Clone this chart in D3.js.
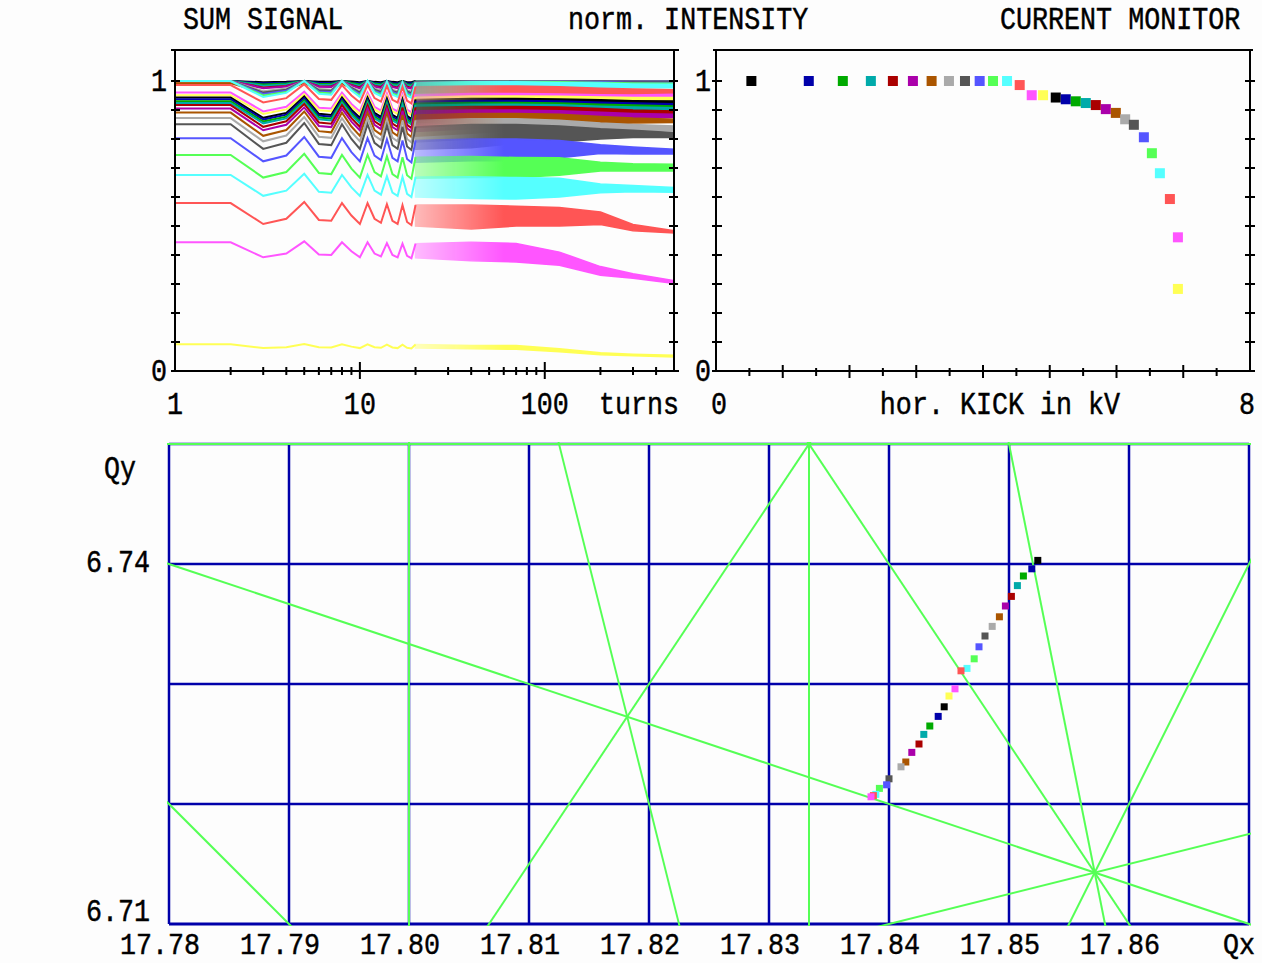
<!DOCTYPE html>
<html>
<head>
<meta charset="utf-8">
<script src="https://cdn.jsdelivr.net/npm/d3@7"></script>
<style>
  body { margin: 0; background: #fdfdfd; }
  text { font-family: "Liberation Mono", monospace; font-size: 26.7px; fill: #000; stroke: #000; stroke-width: 0.4px; }
</style>
</head>
<body>
<svg id="chart" width="1262" height="963"></svg>
<script>
// EGA colours, one per kick step (cycles after 15)
const palette = ["#000000", "#0000aa", "#00aa00", "#00aaaa", "#aa0000", "#aa00aa", "#aa5500", "#aaaaaa",
  "#555555", "#5555ff", "#55ff55", "#55ffff", "#ff5555", "#ff55ff", "#ffff55"];

// SUM SIGNAL: first 20 turns, one row per kick (normalised intensity)
const earlyTurns = [1, 2, 3, 4, 5, 6, 7, 8, 9, 10, 11, 12, 13, 14, 15, 16, 17, 18, 19, 20];
const sumEarly = [
  [1, 1, .996, .997, 1, .997, .997, 1, .998, .996, 1, .997, .996, 1, .997, .996, 1, .996, .996, 1],
  [1, 1, .992, .994, 1, .994, .993, 1, .995, .992, 1, .994, .992, 1, .993, .992, .999, .993, .992, .999],
  [1, 1, .988, .991, 1, .990, .990, 1, .993, .988, 1, .991, .989, .999, .990, .988, .999, .989, .987, .999],
  [1, 1, .984, .988, 1, .987, .986, 1, .990, .984, 1, .988, .985, .999, .986, .984, .998, .986, .983, .998],
  [.998, .998, .978, .983, .999, .982, .981, .998, .986, .978, .998, .983, .979, .997, .981, .978, .996, .980, .977, .996],
  [1, 1, .975, .981, 1, .980, .979, 1, .985, .975, 1, .981, .976, .999, .979, .975, .997, .977, .974, .997],
  [.992, .992, .962, .969, .994, .968, .966, .992, .974, .962, .992, .969, .963, .990, .966, .962, .989, .965, .960, .989],
  [1, 1, .965, .974, 1, .972, .970, 1, .979, .965, 1, .974, .967, .998, .970, .965, .996, .968, .963, .996],
  [1, 1, .960, .970, 1, .968, .966, 1, .976, .960, 1, .970, .962, .998, .966, .960, .996, .964, .958, .996],
  [1, 1, .955, .966, 1, .964, .962, 1, .973, .955, 1, .966, .957, .998, .962, .955, .995, .959, .953, .995],
  [1, 1, .950, .962, 1, .960, .957, 1, .970, .950, 1, .962, .952, .997, .957, .950, .995, .955, .947, .995],
  [1, 1, .945, .959, 1, .956, .953, 1, .967, .945, 1, .959, .948, .997, .953, .945, .994, .950, .942, .994],
  [.986, .986, .926, .941, .989, .938, .935, .986, .950, .926, .986, .941, .929, .983, .935, .926, .980, .932, .923, .980],
  [.960, .960, .895, .911, .963, .908, .905, .960, .921, .895, .960, .911, .898, .957, .905, .895, .953, .901, .892, .953],
  [.951, .951, .886, .902, .954, .899, .896, .951, .912, .886, .951, .902, .889, .948, .896, .886, .944, .892, .883, .944],
  [.943, .943, .873, .890, .947, .887, .883, .943, .901, .873, .943, .890, .876, .939, .883, .873, .936, .880, .869, .936],
  [.937, .937, .867, .884, .941, .881, .877, .937, .895, .867, .937, .884, .870, .933, .877, .867, .930, .874, .863, .930],
  [.930, .930, .860, .877, .934, .874, .870, .930, .888, .860, .930, .877, .863, .926, .870, .860, .923, .867, .856, .923],
  [.924, .924, .854, .871, .928, .868, .864, .924, .882, .854, .924, .871, .857, .920, .864, .854, .917, .861, .850, .917],
  [.917, .917, .842, .861, .921, .857, .853, .917, .872, .842, .917, .861, .846, .913, .853, .842, .909, .849, .838, .909],
  [.905, .905, .830, .849, .909, .845, .841, .905, .860, .830, .905, .849, .834, .901, .841, .830, .897, .837, .826, .897],
  [.891, .891, .811, .831, .895, .827, .823, .891, .843, .811, .891, .831, .815, .887, .823, .811, .883, .819, .807, .883],
  [.872, .872, .792, .812, .876, .808, .804, .872, .824, .792, .872, .812, .796, .868, .804, .792, .864, .800, .788, .864],
  [.851, .851, .766, .787, .855, .783, .779, .851, .800, .766, .851, .787, .770, .847, .779, .766, .842, .774, .762, .842],
  [.803, .803, .723, .743, .807, .739, .735, .803, .755, .723, .803, .743, .727, .799, .735, .723, .795, .731, .719, .795],
  [.745, .745, .667, .686, .749, .683, .679, .745, .698, .667, .745, .686, .671, .741, .679, .667, .737, .675, .663, .737],
  [.676, .676, .604, .622, .680, .618, .615, .676, .633, .604, .676, .622, .608, .672, .615, .604, .669, .611, .600, .669],
  [.579, .579, .507, .525, .583, .521, .518, .579, .536, .507, .579, .525, .511, .575, .518, .507, .572, .514, .503, .572],
  [.444, .444, .392, .405, .447, .402, .400, .444, .413, .392, .444, .405, .395, .441, .400, .392, .439, .397, .389, .439],
  [.092, .092, .079, .082, .093, .082, .081, .092, .084, .079, .092, .082, .080, .091, .081, .079, .091, .080, .078, .091]
];

// SUM SIGNAL after turn 20: the oscillation is too dense to read, so low / high edge of each band
const bandTurns = [20, 40, 70, 120, 200, 300, 500];
const bandLo = [
  [.996, .997, .997, .998, .998, .998, .998],
  [.992, .993, .995, .996, .997, .997, .997],
  [.987, .990, .992, .994, .995, .996, .996],
  [.983, .986, .989, .991, .993, .994, .995],
  [.977, .980, .984, .987, .990, .991, .992],
  [.974, .978, .983, .987, .990, .992, .993],
  [.960, .965, .972, .978, .982, .984, .985],
  [.963, .970, .977, .983, .988, .990, .992],
  [.958, .965, .973, .980, .985, .988, .990],
  [.953, .960, .970, .976, .982, .986, .988],
  [.947, .955, .965, .972, .980, .983, .985],
  [.942, .950, .960, .968, .975, .977, .977],
  [.923, .930, .940, .948, .952, .954, .955],
  [.892, .900, .910, .920, .930, .937, .945],
  [.883, .890, .900, .910, .920, .928, .934],
  [.869, .878, .888, .898, .908, .915, .920],
  [.863, .872, .882, .892, .902, .908, .914],
  [.856, .865, .875, .885, .895, .900, .906],
  [.850, .860, .870, .880, .890, .895, .899],
  [.840, .850, .860, .870, .878, .882, .885],
  [.826, .835, .845, .855, .865, .870, .874],
  [.810, .820, .830, .840, .850, .855, .857],
  [.790, .800, .810, .815, .825, .828, .828],
  [.765, .770, .785, .790, .800, .805, .805],
  [.720, .725, .725, .735, .750, .748, .748],
  [.665, .667, .667, .675, .690, .690, .690],
  [.600, .595, .593, .600, .615, .618, .616],
  [.500, .490, .500, .500, .505, .484, .476],
  [.390, .380, .376, .365, .330, .320, .302],
  [.079, .077, .075, .066, .056, .053, .048]
];
const bandHi = [
  [1, 1, 1, 1, 1, 1, 1],
  [.999, 1, 1, 1, 1, 1, 1],
  [.999, 1, 1, 1, 1, 1, 1],
  [.998, .999, 1, 1, 1, 1, 1],
  [.996, .997, .997, .997, .997, .997, .997],
  [.997, .999, .999, .999, .999, .999, .999],
  [.989, .990, .992, .992, .992, .991, .990],
  [.996, .999, .999, .999, .998, .998, .998],
  [.996, .998, .999, .998, .998, .997, .997],
  [.995, .998, .998, .998, .997, .995, .995],
  [.995, .997, .998, .997, .995, .993, .992],
  [.994, .997, .997, .995, .993, .990, .989],
  [.980, .983, .983, .980, .975, .972, .970],
  [.953, .957, .957, .955, .953, .952, .954],
  [.944, .948, .948, .947, .945, .943, .943],
  [.936, .940, .940, .938, .935, .932, .931],
  [.930, .933, .933, .931, .927, .924, .922],
  [.923, .926, .926, .924, .920, .917, .914],
  [.917, .920, .920, .918, .913, .910, .908],
  [.909, .912, .912, .910, .905, .900, .897],
  [.897, .900, .900, .897, .892, .888, .885],
  [.883, .888, .888, .885, .878, .872, .868],
  [.864, .870, .870, .865, .855, .850, .845],
  [.842, .850, .850, .845, .835, .830, .822],
  [.795, .800, .800, .795, .780, .772, .765],
  [.737, .740, .736, .735, .720, .715, .713],
  [.669, .670, .667, .665, .645, .640, .633],
  [.572, .572, .568, .564, .548, .505, .484],
  [.439, .444, .440, .410, .360, .335, .312],
  [.091, .088, .088, .077, .063, .058, .054]
];

// CURRENT MONITOR: intensity vs horizontal kick
const kickValues = [0.53, 1.39, 1.90, 2.32, 2.65, 2.95, 3.23, 3.49, 3.73, 3.95, 4.15, 4.36, 4.55, 4.73, 4.90,
  5.09, 5.24, 5.39, 5.54, 5.69, 5.84, 5.99, 6.13, 6.26, 6.41, 6.53, 6.65, 6.80, 6.92, 6.92];
const kickIntensity = [1, 1, 1, 1, 1, 1, 1, 1, 1, 1, 1, 1, 0.986, 0.951, 0.951,
  0.943, 0.937, 0.930, 0.924, 0.917, 0.903, 0.890, 0.868, 0.849, 0.806, 0.751, 0.682, 0.593, 0.461, 0.283];

// tune diagram: measured tunes per kick (last kick has no tune)
const tuneQx = [17.8524, 17.8519, 17.8512, 17.8507, 17.8502, 17.8497, 17.8492, 17.8486, 17.8480, 17.8475,
  17.8471, 17.8465, 17.8460, 17.8455, 17.8450, 17.8446, 17.8441, 17.8434, 17.8429, 17.8425,
  17.8419, 17.8414, 17.8410, 17.8400, 17.8398, 17.8392, 17.8389, 17.8387, 17.8385, null];
const tuneQy = [6.7403, 6.7396, 6.7390, 6.7382, 6.7373, 6.7365, 6.7356, 6.7348, 6.7340, 6.7331,
  6.7321, 6.7313, 6.7311, 6.7296, 6.7290, 6.7281, 6.7273, 6.7265, 6.7258, 6.7250,
  6.7243, 6.7235, 6.7231, 6.7221, 6.7216, 6.7213, 6.7208, 6.7207, 6.7206, null];

// resonance lines m*Qx + n*Qy = p
const resonances = [[0, 4, 27], [5, 0, 89], [6, 0, 107], [1, 3, 38], [2, 2, 49], [3, -2, 40],
  [3, 2, 67], [5, 1, 96], [4, 1, 78], [-1, 4, 9], [2, -1, 29]];

// axis ticks and labels
const turnMinor = [2, 3, 4, 5, 6, 7, 8, 9, 20, 30, 40, 50, 60, 70, 80, 90, 200, 300, 400];
const turnMajor = [10, 100];
const turnLabels = [1, 10, 100];
const normTicks = d3.range(0, 11).map(d => d / 10);
const kickTicks = d3.range(1, 16).map(d => d / 2);
const qxGrid = [17.78, 17.79, 17.80, 17.81, 17.82, 17.83, 17.84, 17.85, 17.86, 17.87];
const qyGrid = [6.71, 6.72, 6.73, 6.74, 6.75];
const qxLabels = [17.78, 17.79, 17.80, 17.81, 17.82, 17.83, 17.84, 17.85, 17.86];
const qyLabels = [6.71, 6.74];

const seriesColor = i => palette[i % palette.length];

const svg = d3.select("#chart");
svg.append("rect").attr("width", 1262).attr("height", 963).attr("fill", "#fdfdfd");

// scales
const xTurn = d3.scaleLog().domain([1, 500]).range([175, 674]);
const yNorm = d3.scaleLinear().domain([0, 1]).range([371, 81]);
const xKick = d3.scaleLinear().domain([0, 8]).range([716, 1250]);
const xQ = d3.scaleLinear().domain([17.78, 17.87]).range([169, 1249]);
const yQ = d3.scaleLinear().domain([6.71, 6.75]).range([924, 444]);

// text with the tall DOS look
function label(x, y, s, anchor, sy) {
  svg.append("text")
    .attr("transform", `translate(${x},${y}) scale(1,${sy || 1.15})`)
    .attr("text-anchor", anchor || "start")
    .text(s);
}

function hline(g, x1, x2, y, w) {
  g.append("line").attr("x1", x1).attr("x2", x2).attr("y1", y).attr("y2", y)
    .attr("stroke", "#000").attr("stroke-width", w || 2);
}
function vline(g, x, y1, y2, w) {
  g.append("line").attr("x1", x).attr("x2", x).attr("y1", y1).attr("y2", y2)
    .attr("stroke", "#000").attr("stroke-width", w || 2);
}

// the dense part fades in: at ~20 turns the zigzag still leaves white between strokes
const defs = svg.append("defs");
const fade = defs.append("linearGradient").attr("id", "fadeGrad")
  .attr("gradientUnits", "userSpaceOnUse")
  .attr("x1", xTurn(20)).attr("x2", xTurn(60)).attr("y1", 0).attr("y2", 0);
fade.append("stop").attr("offset", 0).attr("stop-color", "#fff").attr("stop-opacity", 0.4);
fade.append("stop").attr("offset", 1).attr("stop-color", "#fff").attr("stop-opacity", 1);
defs.append("mask").attr("id", "fadeMask").attr("maskUnits", "userSpaceOnUse")
  .attr("x", 0).attr("y", 0).attr("width", 1262).attr("height", 963)
  .append("rect").attr("width", 1262).attr("height", 963).attr("fill", "url(#fadeGrad)");

// ---------- SUM SIGNAL ----------
const gSum = svg.append("g");
const earlyLine = d3.line().x((v, j) => xTurn(earlyTurns[j])).y(v => yNorm(v));
const bandArea = d3.area().x(d => xTurn(d.t)).y0(d => yNorm(d.lo)).y1(d => yNorm(d.hi));

sumEarly.forEach((vals, i) => {
  const c = seriesColor(i);
  gSum.append("path").attr("d", earlyLine(vals))
    .attr("fill", "none").attr("stroke", c).attr("stroke-width", 2);
  const pts = bandTurns.map((t, j) => ({ t, lo: bandLo[i][j], hi: bandHi[i][j] }));
  gSum.append("path").attr("d", bandArea(pts))
    .attr("fill", c).attr("stroke", c).attr("stroke-width", 1.5)
    .attr("mask", "url(#fadeMask)");
});

const axSum = svg.append("g");
hline(axSum, 171, 679, 50);
vline(axSum, xTurn.range()[0], 50, 372);
vline(axSum, xTurn.range()[1], 50, 372);
hline(axSum, 171, 679, yNorm(0));
normTicks.forEach(v => {
  hline(axSum, xTurn.range()[0] - 4, xTurn.range()[0] + 5, yNorm(v));
  hline(axSum, xTurn.range()[1] - 5, xTurn.range()[1] + 4, yNorm(v));
});
turnMinor.forEach(t => vline(axSum, xTurn(t), yNorm(0) - 4, yNorm(0) + 4));
turnMajor.forEach(t => vline(axSum, xTurn(t), yNorm(0) - 9, yNorm(0) + 8));

// ---------- CURRENT MONITOR ----------
const axKick = svg.append("g");
hline(axKick, 713, 1253, 50);
vline(axKick, xKick.range()[0], 50, 372);
vline(axKick, xKick.range()[1], 50, 372);
hline(axKick, 713, 1253, yNorm(0));
normTicks.forEach(v => {
  hline(axKick, xKick.range()[0] - 4, xKick.range()[0] + 6, yNorm(v));
  hline(axKick, xKick.range()[1] - 5, xKick.range()[1] + 5, yNorm(v));
});
kickTicks.forEach(k => {
  const major = Number.isInteger(k);
  vline(axKick, xKick(k), yNorm(0) - (major ? 6 : 3), yNorm(0) + (major ? 7 : 5));
});

svg.append("g").selectAll("rect").data(kickValues).join("rect")
  .attr("x", k => xKick(k) - 5)
  .attr("y", (k, i) => yNorm(kickIntensity[i]) - 5)
  .attr("width", 10).attr("height", 10)
  .attr("fill", (k, i) => seriesColor(i));

// ---------- tune diagram ----------
const gTune = svg.append("g");
gTune.append("clipPath").attr("id", "tuneClip").append("rect")
  .attr("x", 167).attr("y", 442).attr("width", 1084).attr("height", 484);

qxGrid.forEach(q => gTune.append("line")
  .attr("x1", xQ(q)).attr("x2", xQ(q)).attr("y1", yQ(6.75)).attr("y2", yQ(6.71))
  .attr("stroke", "#0000aa").attr("stroke-width", 2.5));
qyGrid.forEach(q => gTune.append("line")
  .attr("x1", xQ(17.78)).attr("x2", xQ(17.87)).attr("y1", yQ(q)).attr("y2", yQ(q))
  .attr("stroke", "#0000aa").attr("stroke-width", q === 6.71 ? 3 : 2.5));

const gRes = gTune.append("g").attr("clip-path", "url(#tuneClip)");
resonances.forEach(([m, n, p]) => {
  let a, b;
  if (n === 0) {
    a = [p / m, 6.70]; b = [p / m, 6.76];
  } else {
    a = [17.77, (p - m * 17.77) / n]; b = [17.88, (p - m * 17.88) / n];
  }
  gRes.append("line")
    .attr("x1", xQ(a[0])).attr("y1", yQ(a[1])).attr("x2", xQ(b[0])).attr("y2", yQ(b[1]))
    .attr("stroke", "#55ff55").attr("stroke-width", 2);
});

gTune.selectAll("rect.tune").data(tuneQx.map((q, i) => ({ q, i })).filter(d => d.q !== null))
  .join("rect").attr("class", "tune")
  .attr("x", d => xQ(d.q) - 3.5)
  .attr("y", d => yQ(tuneQy[d.i]) - 3.5)
  .attr("width", 7).attr("height", 7)
  .attr("fill", d => seriesColor(d.i));

// ---------- texts ----------
label(183, 29, "SUM SIGNAL");
label(568, 29, "norm. INTENSITY");
label(1000, 29, "CURRENT MONITOR");

label(167, yNorm(1) + 10, "1", "end");
label(167, yNorm(0) + 10, "0", "end");
label(711, yNorm(1) + 10, "1", "end");
label(711, yNorm(0) + 10, "0", "end");
turnLabels.forEach(t => label(xTurn(t), 414, String(t), "middle"));
label(679, 414, "turns", "end");
label(xKick(0) + 3, 414, "0", "middle");
label(1000, 414, "hor. KICK in kV", "middle");
label(xKick(8) - 3, 414, "8", "middle");

label(104, 478, "Qy");
qyLabels.forEach(q => label(150, yQ(q) + (q === 6.71 ? -3 : 8), q.toFixed(2), "end"));
qxLabels.forEach(q => label(xQ(q) - 9, 954, q.toFixed(2), "middle", 1.1));
label(xQ(17.87) - 10, 954, "Qx", "middle", 1.1);
</script>
</body>
</html>
